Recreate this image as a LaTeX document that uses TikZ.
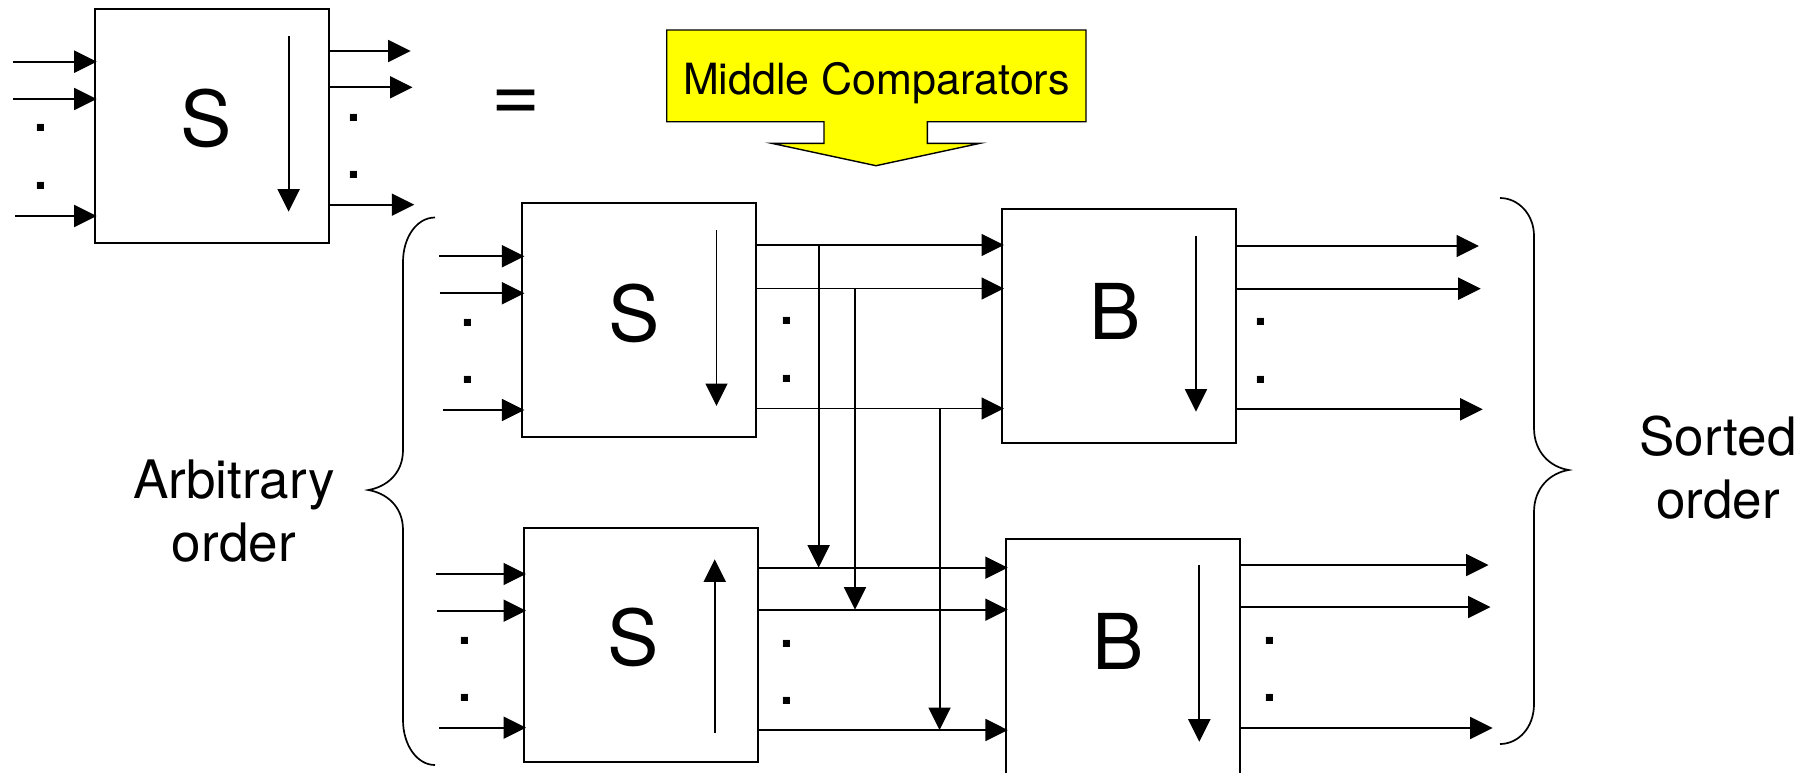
\documentclass[tikz,border=0pt]{standalone}
\usepackage{fontspec}
\setmainfont{TeX Gyre Heros}
\usetikzlibrary{arrows.meta,calc}
\definecolor{calloutfill}{RGB}{255,255,0}
\begin{document}
\begin{tikzpicture}[x=1pt,y=-1pt,
  arr/.style={line width=1.8pt,-{Triangle[length=22.5pt,width=22pt]}},
  arrin/.style={arr,shorten >=-3pt},
  blk/.style={draw,line width=1.8pt,minimum width=234pt,minimum height=234pt,inner sep=0pt},
  sym/.style={font=\fontsize{77}{77}\selectfont,inner sep=0pt},
  ellip/.style={font=\fontsize{68}{57.4}\selectfont,inner sep=0pt,align=center},
  lbl/.style={font=\fontsize{53}{53}\selectfont,inner sep=0pt,anchor=base},
  bracket/.style={line width=1.7pt},
]
\useasboundingbox (0,0) rectangle (1812,772);
\clip (0,0) rectangle (1812,772);

% ---------- the sorter symbol on its own ----------
\node[blk] (s0) at (211.6,125.8) {};
\node[sym] (s0t) at (206,118.3) {S};
\coordinate (s0i1) at (12.5,61.7);
\coordinate (s0i2) at (13.2,99);
\coordinate (s0i3) at (15.4,216);
\draw[arrin] (s0i1) -- (s0i1 -| s0.west);
\draw[arrin] (s0i2) -- (s0i2 -| s0.west);
\draw[arrin] (s0i3) -- (s0i3 -| s0.west);
\coordinate (s0o1) at (410.7,51);
\coordinate (s0o2) at (412.5,87.3);
\coordinate (s0o3) at (414.3,204.7);
\draw[arr] (s0o1 -| s0.east) -- (s0o1);
\draw[arr] (s0o2 -| s0.east) -- (s0o2);
\draw[arr] (s0o3 -| s0.east) -- (s0o3);
\coordinate (s0a) at (288.6,36);
\coordinate (s0b) at (288.6,211.7);
\draw[arr] (s0a) -- (s0b);
\node[ellip] (s0dl) at (41,157) {.\\.};
\node[ellip] (s0dr) at (354,146.2) {.\\.};

\node[font=\fontsize{84}{84}\selectfont,inner sep=0pt] (eq) at (516,105.3) {=};

% ---------- callout ----------
\draw[line width=1.4pt,fill=calloutfill,line join=miter]
  (666.7,30) -- (1086,30) -- (1086,121.7) -- (927.3,121.7) -- (927.3,143.3)
  -- (980,143.3) -- (876,165.7) -- (771.7,143.3) -- (824,143.3) -- (824,121.7)
  -- (666.7,121.7) -- cycle;
\node[font=\fontsize{43}{43}\selectfont,inner sep=0pt,anchor=base] (mc) at (876.5,94.3) {Middle Comparators};

% ---------- the two half sorters ----------
\node[blk] (s1) at (639.3,320.3) {};
\node[sym] (s1t) at (634.3,313.3) {S};
\node[blk] (s2) at (640.9,645.2) {};
\node[sym] (s2t) at (632.8,637.5) {S};

\coordinate (s1i1) at (439.4,256.3);
\coordinate (s1i2) at (439.6,293.3);
\coordinate (s1i3) at (442.8,410);
\draw[arrin] (s1i1) -- (s1i1 -| s1.west);
\draw[arrin] (s1i2) -- (s1i2 -| s1.west);
\draw[arrin] (s1i3) -- (s1i3 -| s1.west);
\node[ellip] (s1dl) at (468.4,351.7) {.\\.};
\coordinate (s1a) at (716.5,230);
\coordinate (s1b) at (716.5,406);
\draw[arr] (s1a) -- (s1b);

\coordinate (s2i1) at (436,574);
\coordinate (s2i2) at (437,610.7);
\coordinate (s2i3) at (439,727.7);
\draw[arrin] (s2i1) -- (s2i1 -| s2.west);
\draw[arrin] (s2i2) -- (s2i2 -| s2.west);
\draw[arrin] (s2i3) -- (s2i3 -| s2.west);
\node[ellip] (s2dl) at (465,669.2) {.\\.};
\coordinate (s2a) at (714.7,732.7);
\coordinate (s2b) at (714.7,559.3);
\draw[arr] (s2a) -- (s2b);

% ---------- the two bitonic mergers ----------
\node[blk] (b1) at (1118.9,326.3) {};
\node[sym] (b1t) at (1115,311.7) {B};
\node[blk,minimum height=236pt] (b2) at (1122.7,657.3) {};
\node[sym] (b2t) at (1117.7,641.7) {B};
\coordinate (b1a) at (1196,236);
\coordinate (b1b) at (1196,411.7);
\draw[arr] (b1a) -- (b1b);
\coordinate (b2a) at (1199.3,565);
\coordinate (b2b) at (1199.3,741.7);
\draw[arr] (b2a) -- (b2b);

% wires from the half sorters into the mergers
\coordinate (r1) at (0,245);
\coordinate (r2) at (0,288.5);
\coordinate (r3) at (0,408.5);
\coordinate (r4) at (0,567.7);
\coordinate (r5) at (0,609.7);
\coordinate (r6) at (0,730);
\draw[arrin] (r1 -| s1.east) -- (r1 -| b1.west);
\draw[arrin] (r2 -| s1.east) -- (r2 -| b1.west);
\draw[arrin] (r3 -| s1.east) -- (r3 -| b1.west);
\draw[arrin] (r4 -| s2.east) -- (r4 -| b2.west);
\draw[arrin] (r5 -| s2.east) -- (r5 -| b2.west);
\draw[arrin] (r6 -| s2.east) -- (r6 -| b2.west);
\node[ellip] (s1dr) at (786.5,350) {.\\.};
\node[ellip] (s2dr) at (787,672.2) {.\\.};

% middle comparators
\coordinate (c1) at (818.6,0);
\coordinate (c2) at (855,0);
\coordinate (c3) at (939.6,0);
\draw[arr] (c1 |- r1) -- (c1 |- r4);
\draw[arr] (c2 |- r2) -- (c2 |- r5);
\draw[arr] (c3 |- r3) -- (c3 |- r6);

% merger outputs
\coordinate (b1o1) at (1479,246);
\coordinate (b1o2) at (1480.7,288.7);
\coordinate (b1o3) at (1482.7,409.3);
\draw[arr] (b1o1 -| b1.east) -- (b1o1);
\draw[arr] (b1o2 -| b1.east) -- (b1o2);
\draw[arr] (b1o3 -| b1.east) -- (b1o3);
\node[ellip] (b1dr) at (1261,351) {.\\.};
\coordinate (b2o1) at (1488.5,565);
\coordinate (b2o2) at (1490.5,607);
\coordinate (b2o3) at (1492.6,728);
\draw[arr] (b2o1 -| b2.east) -- (b2o1);
\draw[arr] (b2o2 -| b2.east) -- (b2o2);
\draw[arr] (b2o3 -| b2.east) -- (b2o3);
\node[ellip] (b2dr) at (1269.5,669.5) {.\\.};

% ---------- braces and their labels ----------
\draw[bracket] (435,217.5) .. controls (417,217.5) and (403,237) .. (403,262)
  -- (403,450) .. controls (403,474) and (386,487) .. (368.3,490)
  .. controls (386,493) and (403,506) .. (403,530)
  -- (403,720) .. controls (403,745) and (417,765) .. (435,765);
\draw[bracket] (1500,198) .. controls (1518,198) and (1534,214) .. (1534,236)
  -- (1534,428) .. controls (1534,452) and (1550,467) .. (1568.7,470)
  .. controls (1550,473) and (1534,488) .. (1534,512)
  -- (1534,704) .. controls (1534,728) and (1518,744) .. (1500,744);

\node[lbl] (arb1) at (234,498.3) {Arbitrary};
\node[lbl] (arb2) at (233.8,561.7) {order};
\node[lbl] (srt1) at (1718,455.5) {Sorted};
\node[lbl] (srt2) at (1718,518) {order};
\end{tikzpicture}
\end{document}
